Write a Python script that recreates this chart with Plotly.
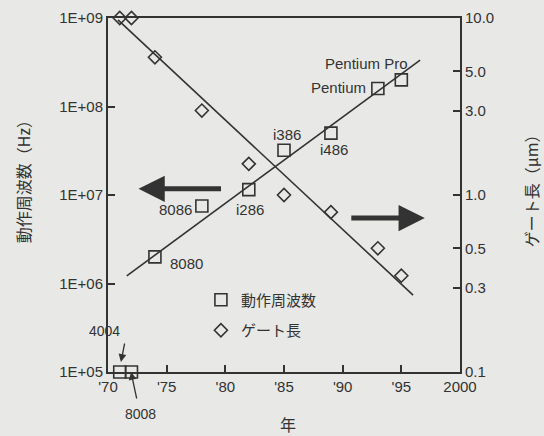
import plotly.graph_objects as go

# ---- data ----
years = [1971, 1972, 1974, 1978, 1982, 1985, 1989, 1993, 1995]
freq_hz = [1e5, 1e5, 2e6, 7.5e6, 1.15e7, 3.2e7, 5e7, 1.6e8, 2e8]
gate_um = [10, 10, 6, 3, 1.5, 1.0, 0.8, 0.5, 0.35]
freq_trend_x = [1971.6, 1996.6]
freq_trend_y = [1.22e6, 3.35e8]
gate_trend_x = [1970.85, 1996.0]
gate_trend_y = [9.75, 0.272]

x_tickvals = [1970, 1975, 1980, 1985, 1990, 1995, 2000]
x_ticktext = ["'70", "'75", "'80", "'85", "'90", "'95", "2000"]
y1_tickvals = [1e5, 1e6, 1e7, 1e8, 1e9]
y1_ticktext = ["1E+05", "1E+06", "1E+07", "1E+08", "1E+09"]
y2_tickvals = [0.1, 0.3, 0.5, 1, 3, 5, 10]
y2_ticktext = ["0.1", "0.3", "0.5", "1.0", "3.0", "5.0", "10.0"]

# chip labels: (text, x, log10 y, xanchor)
chip_labels = [
    ("Pentium Pro", 1992.0, 8.49, "center"),
    ("Pentium", 1992.2, 8.21, "right"),
    ("i386", 1985.26, 7.68, "center"),
    ("i486", 1989.27, 7.51, "center"),
    ("8086", 1975.75, 6.84, "center"),
    ("i286", 1982.06, 6.84, "center"),
    ("8080", 1975.1, 6.23, "left"),
]

INK = "#333333"
BG = "#e8e8e6"
FONT = "Liberation Sans, Arial, sans-serif"
JFONT = "Noto Sans CJK JP, sans-serif"

fig = go.Figure()

fig.add_trace(go.Scatter(x=freq_trend_x, y=freq_trend_y, mode="lines",
                         line=dict(color=INK, width=1.6), showlegend=False,
                         yaxis="y", cliponaxis=False))
fig.add_trace(go.Scatter(x=gate_trend_x, y=gate_trend_y, mode="lines",
                         line=dict(color=INK, width=1.6), showlegend=False,
                         yaxis="y2", cliponaxis=False))
fig.add_trace(go.Scatter(x=years, y=freq_hz, mode="markers", name="動作周波数",
                         marker=dict(symbol="square-open", size=12, color=INK,
                                     line=dict(width=1.6, color=INK)),
                         yaxis="y", cliponaxis=False, legendgroup="a"))
fig.add_trace(go.Scatter(x=years, y=gate_um, mode="markers", name="ゲート長",
                         marker=dict(symbol="diamond-open", size=10, color=INK,
                                     line=dict(width=1.6, color=INK)),
                         yaxis="y2", cliponaxis=False, legendgroup="b"))

ann = []
for t, x, y, xa in chip_labels:
    ann.append(dict(text=t, x=x, y=y, xref="x", yref="y", xanchor=xa, yanchor="middle",
                    showarrow=False, font=dict(family=FONT, size=15, color=INK)))

# 4004 label + arrow
ann.append(dict(text="4004", x=-0.011, y=0.116, xref="paper", yref="paper", showarrow=False,
                xanchor="center", yanchor="middle",
                font=dict(family=FONT, size=14, color=INK)))
ann.append(dict(text="", x=1971.1, y=5.113, xref="x", yref="y", ax=4, ay=-20,
                showarrow=True, arrowhead=2, arrowsize=1.2, arrowwidth=1.3, arrowcolor=INK))
# 8008 label + arrow
ann.append(dict(text="8008", x=1972.73, y=-0.119, xref="x", yref="paper", showarrow=False,
                xanchor="center", yanchor="middle",
                font=dict(family=FONT, size=14, color=INK)))
ann.append(dict(text="", x=1971.96, y=5.0, xref="x", yref="y", ax=6, ay=28,
                showarrow=True, arrowhead=2, arrowsize=1.2, arrowwidth=1.3, arrowcolor=INK))
# big arrows
ann.append(dict(text="", x=1972.6, y=7.07, xref="x", yref="y", ax=84, ay=0,
                showarrow=True, arrowhead=2, arrowsize=1.05, arrowwidth=5, arrowcolor=INK))
ann.append(dict(text="", x=1997.0, y=6.74, xref="x", yref="y", ax=-75, ay=0,
                showarrow=True, arrowhead=2, arrowsize=1.05, arrowwidth=5, arrowcolor=INK))
# axis titles
ann.append(dict(text="動作周波数（Hz）", x=-0.241, y=0.548, xref="paper", yref="paper",
                xanchor="center", yanchor="middle",
                textangle=-90, showarrow=False, font=dict(family=JFONT, size=16, color=INK)))
ann.append(dict(text="ゲート長（µm）", x=1.2, y=0.523, xref="paper", yref="paper",
                xanchor="center", yanchor="middle",
                textangle=-90, showarrow=False, font=dict(family=JFONT, size=16, color=INK)))
ann.append(dict(text="年", x=0.511, y=-0.146, xref="paper", yref="paper",
                xanchor="center", yanchor="middle",
                showarrow=False, font=dict(family=JFONT, size=16, color=INK)))

fig.update_layout(
    width=544, height=436,
    margin=dict(l=108, r=84, t=18, b=64, autoexpand=False),
    paper_bgcolor=BG, plot_bgcolor=BG,
    font=dict(family=FONT, size=14, color=INK),
    annotations=ann,
    showlegend=True,
    legend=dict(x=0.264, y=0.25, xanchor="left", yanchor="top",
                bgcolor="rgba(0,0,0,0)", tracegroupgap=8, itemwidth=30,
                font=dict(family=JFONT, size=15, color=INK)),
    xaxis=dict(range=[1970, 2000], tickvals=x_tickvals, ticktext=x_ticktext,
               ticks="inside", ticklen=7, tickwidth=1.5, tickcolor=INK,
               showline=True, linecolor=INK, linewidth=2, mirror=True, automargin=False,
               showgrid=False, zeroline=False, tickfont=dict(size=15)),
    yaxis=dict(type="log", range=[5, 9], tickvals=y1_tickvals, ticktext=y1_ticktext,
               ticks="inside", ticklen=7, tickwidth=1.5, tickcolor=INK, automargin=False,
               showline=True, linecolor=INK, linewidth=2,
               showgrid=False, zeroline=False, tickfont=dict(size=15)),
    yaxis2=dict(type="log", range=[-1, 1], tickvals=y2_tickvals, ticktext=y2_ticktext,
                overlaying="y", side="right", automargin=False,
                ticks="inside", ticklen=7, tickwidth=1.5, tickcolor=INK,
                showline=True, linecolor=INK, linewidth=2,
                showgrid=False, zeroline=False, tickfont=dict(size=15)),
)

fig.write_html(
    "out.html",
    config={"displayModeBar": False},
    post_script="document.body.style.margin='0';document.body.style.background='%s';"
                "document.documentElement.style.overflow='hidden';" % BG,
)
